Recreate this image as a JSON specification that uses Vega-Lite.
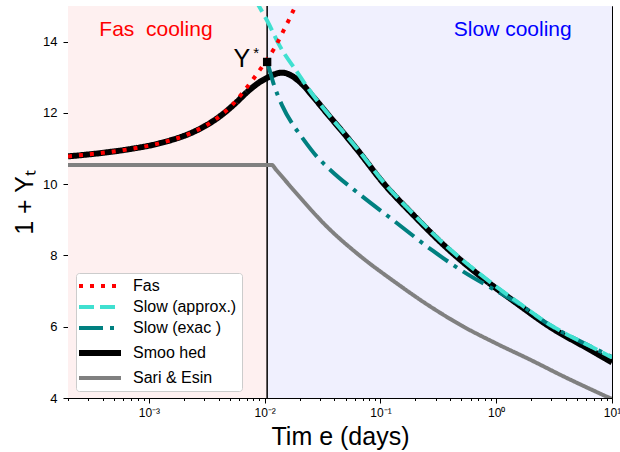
{
  "$schema": "https://vega.github.io/schema/vega-lite/v6.json",
  "width": 544,
  "height": 392,
  "autosize": {"type": "none"},
  "padding": {"left": 68, "top": 6, "right": 8, "bottom": 54},
  "config": {
    "font": "Liberation Sans",
    "view": {"stroke": "black", "strokeWidth": 1},
    "axis": {"domainColor": "black", "tickColor": "black", "labelColor": "black", "titleColor": "black", "grid": false, "titleFontWeight": "normal", "labelFont": "Liberation Sans", "titleFont": "Liberation Sans"},
    "legend": {
      "orient": "none", "legendX": 8, "legendY": 267, "title": null,
      "symbolType": "M-1,0H3.2", "symbolSize": 400, "labelFontSize": 16, "labelOffset": 36,
      "rowPadding": 5, "padding": 5, "strokeColor": "#cccccc", "fillColor": "white",
      "cornerRadius": 3, "labelColor": "black", "labelFont": "Liberation Sans"
    }
  },
  "datasets": {
    "regions": [
      {"region": "Fast", "t": 0.0002, "t_end": 0.0105, "v": 4, "v_end": 15},
      {"region": "Slow", "t": 0.0105, "t_end": 10, "v": 4, "v_end": 15}
    ],
    "vline": [{"t": 0.0105, "v": 4, "v_end": 15}],
    "ystar": [{"t": 0.0105, "v": 13.43}],
    "labels": [
      {"label": "Fas\u00a0 cooling", "kind": "fast", "t": 0.00115, "v": 14.17},
      {"label": "Slow cooling", "kind": "slow", "t": 1.39, "v": 14.17}
    ],
    "curves": [
      {"series": "Smoo hed", "t": 0.0002, "v": 10.78},
      {"series": "Smoo hed", "t": 0.0004, "v": 10.88},
      {"series": "Smoo hed", "t": 0.00064, "v": 10.97},
      {"series": "Smoo hed", "t": 0.00124, "v": 11.15},
      {"series": "Smoo hed", "t": 0.0024, "v": 11.46},
      {"series": "Smoo hed", "t": 0.00316, "v": 11.66},
      {"series": "Smoo hed", "t": 0.0042, "v": 11.93},
      {"series": "Smoo hed", "t": 0.00537, "v": 12.22},
      {"series": "Smoo hed", "t": 0.00748, "v": 12.66},
      {"series": "Smoo hed", "t": 0.0092, "v": 12.88},
      {"series": "Smoo hed", "t": 0.0106, "v": 12.99},
      {"series": "Smoo hed", "t": 0.0123, "v": 13.09},
      {"series": "Smoo hed", "t": 0.0141, "v": 13.13},
      {"series": "Smoo hed", "t": 0.0165, "v": 13.07},
      {"series": "Smoo hed", "t": 0.0188, "v": 12.95},
      {"series": "Smoo hed", "t": 0.0215, "v": 12.78},
      {"series": "Smoo hed", "t": 0.0263, "v": 12.45},
      {"series": "Smoo hed", "t": 0.0355, "v": 11.94},
      {"series": "Smoo hed", "t": 0.0479, "v": 11.44},
      {"series": "Smoo hed", "t": 0.0633, "v": 10.96},
      {"series": "Smoo hed", "t": 0.106, "v": 10.03},
      {"series": "Smoo hed", "t": 0.193, "v": 9.13},
      {"series": "Smoo hed", "t": 0.366, "v": 8.24},
      {"series": "Smoo hed", "t": 0.748, "v": 7.39},
      {"series": "Smoo hed", "t": 1.47, "v": 6.68},
      {"series": "Smoo hed", "t": 3.0, "v": 5.97},
      {"series": "Smoo hed", "t": 6.5, "v": 5.35},
      {"series": "Smoo hed", "t": 10, "v": 5.0},

      {"series": "Sari & Esin", "t": 0.0002, "v": 10.54},
      {"series": "Sari & Esin", "t": 0.0115, "v": 10.54},
      {"series": "Sari & Esin", "t": 0.0125, "v": 10.41},
      {"series": "Sari & Esin", "t": 0.0177, "v": 9.84},
      {"series": "Sari & Esin", "t": 0.0347, "v": 8.8},
      {"series": "Sari & Esin", "t": 0.0671, "v": 7.98},
      {"series": "Sari & Esin", "t": 0.13, "v": 7.28},
      {"series": "Sari & Esin", "t": 0.26, "v": 6.6},
      {"series": "Sari & Esin", "t": 0.51, "v": 6.02},
      {"series": "Sari & Esin", "t": 1.0, "v": 5.53},
      {"series": "Sari & Esin", "t": 1.95, "v": 5.08},
      {"series": "Sari & Esin", "t": 3.85, "v": 4.6},
      {"series": "Sari & Esin", "t": 10, "v": 3.97},

      {"series": "Slow (exac )", "t": 0.0105, "v": 13.43},
      {"series": "Slow (exac )", "t": 0.0108, "v": 13.3},
      {"series": "Slow (exac )", "t": 0.0119, "v": 12.83},
      {"series": "Slow (exac )", "t": 0.0141, "v": 12.22},
      {"series": "Slow (exac )", "t": 0.0172, "v": 11.71},
      {"series": "Slow (exac )", "t": 0.0203, "v": 11.38},
      {"series": "Slow (exac )", "t": 0.0283, "v": 10.77},
      {"series": "Slow (exac )", "t": 0.0369, "v": 10.4},
      {"series": "Slow (exac )", "t": 0.0671, "v": 9.7},
      {"series": "Slow (exac )", "t": 0.13, "v": 8.98},
      {"series": "Slow (exac )", "t": 0.281, "v": 8.14},
      {"series": "Slow (exac )", "t": 0.5, "v": 7.58},
      {"series": "Slow (exac )", "t": 1.05, "v": 6.97},
      {"series": "Slow (exac )", "t": 1.47, "v": 6.7},
      {"series": "Slow (exac )", "t": 3.0, "v": 6.02},
      {"series": "Slow (exac )", "t": 6.5, "v": 5.45},
      {"series": "Slow (exac )", "t": 10, "v": 5.15},

      {"series": "Slow (approx.)", "t": 0.0082, "v": 15.2},
      {"series": "Slow (approx.)", "t": 0.01045, "v": 14.6},
      {"series": "Slow (approx.)", "t": 0.0136, "v": 13.86},
      {"series": "Slow (approx.)", "t": 0.019, "v": 13.15},
      {"series": "Slow (approx.)", "t": 0.0248, "v": 12.6},
      {"series": "Slow (approx.)", "t": 0.0355, "v": 11.96},
      {"series": "Slow (approx.)", "t": 0.0633, "v": 10.99},
      {"series": "Slow (approx.)", "t": 0.106, "v": 10.06},
      {"series": "Slow (approx.)", "t": 0.193, "v": 9.16},
      {"series": "Slow (approx.)", "t": 0.366, "v": 8.28},
      {"series": "Slow (approx.)", "t": 0.748, "v": 7.44},
      {"series": "Slow (approx.)", "t": 1.47, "v": 6.73},
      {"series": "Slow (approx.)", "t": 3.0, "v": 6.03},
      {"series": "Slow (approx.)", "t": 6.5, "v": 5.45},
      {"series": "Slow (approx.)", "t": 10, "v": 5.14},

      {"series": "Fas", "t": 0.0002, "v": 10.78},
      {"series": "Fas", "t": 0.0004, "v": 10.88},
      {"series": "Fas", "t": 0.00064, "v": 10.97},
      {"series": "Fas", "t": 0.00124, "v": 11.15},
      {"series": "Fas", "t": 0.0024, "v": 11.46},
      {"series": "Fas", "t": 0.00316, "v": 11.66},
      {"series": "Fas", "t": 0.0042, "v": 11.94},
      {"series": "Fas", "t": 0.0053, "v": 12.24},
      {"series": "Fas", "t": 0.0065, "v": 12.58},
      {"series": "Fas", "t": 0.008, "v": 12.96},
      {"series": "Fas", "t": 0.0097, "v": 13.34},
      {"series": "Fas", "t": 0.0123, "v": 13.85},
      {"series": "Fas", "t": 0.0145, "v": 14.3},
      {"series": "Fas", "t": 0.0184, "v": 15.0},
      {"series": "Fas", "t": 0.021, "v": 15.45}
    ]
  },
  "encoding": {
    "x": {
      "field": "t", "type": "quantitative",
      "scale": {"type": "log", "domain": [0.0002, 10], "nice": false},
      "axis": {
        "title": "Tim e (days)", "titleFontSize": 25, "titlePadding": 6,
        "labelFontSize": 12, "labelPadding": 4, "labelFlush": false, "labelOverlap": false,
        "values": [0.0002, 0.0003, 0.0004, 0.0005, 0.0006, 0.0007, 0.0008, 0.0009,
                   0.001, 0.002, 0.003, 0.004, 0.005, 0.006, 0.007, 0.008, 0.009,
                   0.01, 0.02, 0.03, 0.04, 0.05, 0.06, 0.07, 0.08, 0.09,
                   0.1, 0.2, 0.3, 0.4, 0.5, 0.6, 0.7, 0.8, 0.9,
                   1, 2, 3, 4, 5, 6, 7, 8, 9, 10],
        "labelExpr": "datum.value === 0.001 ? '10⁻³' : datum.value === 0.01 ? '10⁻²' : datum.value === 0.1 ? '10⁻¹' : datum.value === 1 ? '10⁰' : datum.value === 10 ? '10¹' : ''",
        "tickSize": {"condition": {"test": "datum.value === 0.001 || datum.value === 0.01 || datum.value === 0.1 || datum.value === 1 || datum.value === 10", "value": 5}, "value": 2.5}
      }
    },
    "y": {
      "field": "v", "type": "quantitative",
      "scale": {"domain": [4, 15], "nice": false, "zero": false},
      "axis": {
        "title": "1 + Yₜ", "titleFontSize": 25, "titlePadding": 5,
        "values": [4, 6, 8, 10, 12, 14], "tickSize": 5, "labelFontSize": 13, "labelPadding": 6
      }
    }
  },
  "layer": [
    {
      "data": {"name": "regions"},
      "mark": {"type": "rect", "strokeWidth": 0},
      "encoding": {
        "x2": {"field": "t_end"},
        "y2": {"field": "v_end"},
        "fill": {"field": "region", "type": "nominal", "scale": {"domain": ["Fast", "Slow"], "range": ["#fef0f0", "#f0f0fe"]}, "legend": null}
      }
    },
    {
      "data": {"name": "vline"},
      "mark": {"type": "rule", "color": "black", "strokeWidth": 1.5},
      "encoding": {"y2": {"field": "v_end"}}
    },
    {
      "data": {"name": "curves"},
      "transform": [{"filter": "datum.series === 'Smoo hed'"}],
      "mark": {"type": "line", "interpolate": "monotone", "clip": true, "strokeWidth": 6},
      "encoding": {
        "stroke": {
          "field": "series", "type": "nominal",
          "scale": {"domain": ["Fas", "Slow (approx.)", "Slow (exac )", "Smoo hed", "Sari & Esin"], "range": ["#ff0000", "#40e0d0", "#008080", "#000000", "#808080"]},
          "legend": {"encode": {"symbols": {"update": {"strokeWidth": {"signal": "datum.value === 'Smoo hed' ? 6 : 4"}}}}}
        },
        "strokeDash": {"field": "series", "type": "nominal", "scale": {"domain": ["Fas", "Slow (approx.)", "Slow (exac )", "Smoo hed", "Sari & Esin"], "range": [[4, 7], [15, 6], [24, 7, 4, 7], [1, 0], [1, 0]]}}
      }
    },
    {
      "data": {"name": "curves"},
      "transform": [{"filter": "datum.series === 'Sari & Esin'"}],
      "mark": {"type": "line", "interpolate": "monotone", "clip": true, "strokeWidth": 4},
      "encoding": {
        "stroke": {"field": "series", "type": "nominal"},
        "strokeDash": {"field": "series", "type": "nominal"}
      }
    },
    {
      "data": {"name": "curves"},
      "transform": [{"filter": "datum.series === 'Slow (exac )'"}],
      "mark": {"type": "line", "interpolate": "monotone", "clip": true, "strokeWidth": 4},
      "encoding": {
        "stroke": {"field": "series", "type": "nominal"},
        "strokeDash": {"field": "series", "type": "nominal"}
      }
    },
    {
      "data": {"name": "curves"},
      "transform": [{"filter": "datum.series === 'Slow (approx.)'"}],
      "mark": {"type": "line", "interpolate": "monotone", "clip": true, "strokeWidth": 4},
      "encoding": {
        "stroke": {"field": "series", "type": "nominal"},
        "strokeDash": {"field": "series", "type": "nominal"}
      }
    },
    {
      "data": {"name": "curves"},
      "transform": [{"filter": "datum.series === 'Fas'"}],
      "mark": {"type": "line", "interpolate": "monotone", "clip": true, "strokeWidth": 4},
      "encoding": {
        "stroke": {"field": "series", "type": "nominal"},
        "strokeDash": {"field": "series", "type": "nominal"}
      }
    },
    {
      "data": {"name": "ystar"},
      "mark": {"type": "square", "size": 70, "color": "black", "filled": true, "opacity": 1}
    },
    {
      "data": {"name": "ystar"},
      "mark": {"type": "text", "text": "Y", "fontSize": 25, "align": "right", "baseline": "alphabetic", "dx": -17, "dy": 5, "color": "black"}
    },
    {
      "data": {"name": "ystar"},
      "mark": {"type": "text", "text": "*", "fontSize": 15, "align": "left", "baseline": "alphabetic", "dx": -14, "dy": -4, "color": "black"}
    },
    {
      "data": {"name": "labels"},
      "transform": [{"filter": "datum.kind === 'fast'"}],
      "mark": {"type": "text", "fontSize": 21, "align": "center", "baseline": "alphabetic", "color": "#ff0000"},
      "encoding": {"text": {"field": "label"}}
    },
    {
      "data": {"name": "labels"},
      "transform": [{"filter": "datum.kind === 'slow'"}],
      "mark": {"type": "text", "fontSize": 21, "align": "center", "baseline": "alphabetic", "color": "#0000ff"},
      "encoding": {"text": {"field": "label"}}
    }
  ]
}
